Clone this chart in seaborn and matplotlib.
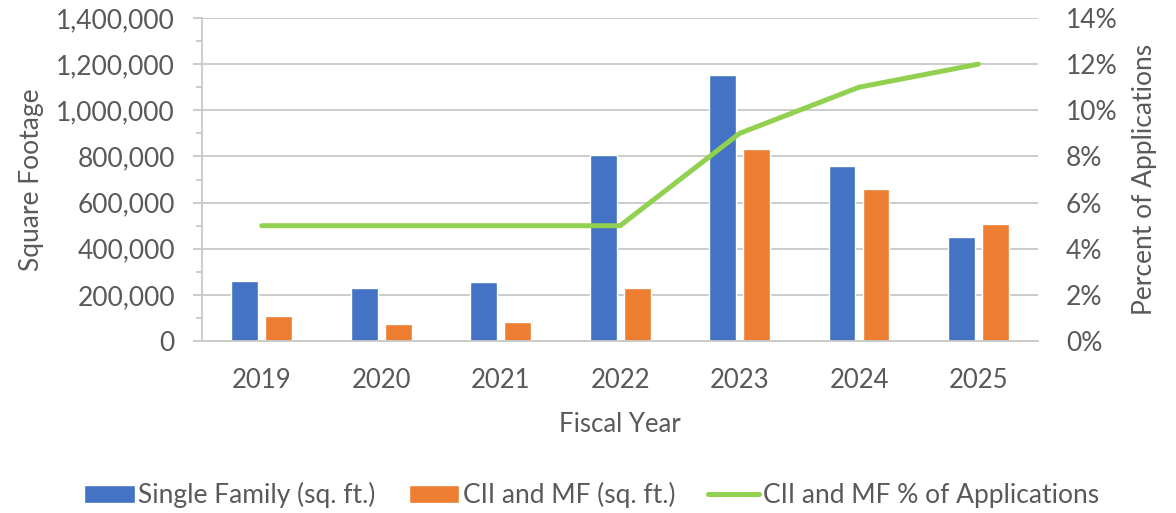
import numpy as np
import pandas as pd
import matplotlib
matplotlib.use("Agg")
import matplotlib.pyplot as plt
from matplotlib.ticker import FuncFormatter, MultipleLocator
from matplotlib.patches import Patch
from matplotlib.lines import Line2D
import seaborn as sns

years = ["2019", "2020", "2021", "2022", "2023", "2024", "2025"]
single_family = [260000, 230000, 258000, 805000, 1155000, 760000, 452000]
cii_mf = [108000, 75000, 82000, 232000, 833000, 659000, 508000]
cii_mf_pct = [5, 5, 5, 5, 9, 11, 12]

sf_label = "Single Family (sq. ft.)"
cm_label = "CII and MF (sq. ft.)"
pct_label = "CII and MF % of Applications"

blue = "#4472C4"
orange = "#ED7D31"
green = "#92D050"
grid_c = "#C8C8C8"
text_c = "#595959"

sns.set_style("white")
plt.rcParams["font.family"] = ["Lato", "DejaVu Sans"]

df = pd.DataFrame({
    "year": years * 2,
    "value": single_family + cii_mf,
    "series": [sf_label] * len(years) + [cm_label] * len(years),
})

fig = plt.figure(figsize=(11.76, 5.13), dpi=100)
ax = fig.add_axes([0.1718, 0.335, 0.711, 0.630])

sns.barplot(data=df, x="year", y="value", hue="series", order=years,
            palette=[blue, orange], width=0.57, gap=0.21, ax=ax,
            legend=False, saturation=1)

ax.set_ylim(0, 1400000)
ax.set_xlim(-0.5, len(years) - 0.5)
ax.yaxis.set_major_locator(MultipleLocator(200000))
ax.yaxis.set_minor_locator(MultipleLocator(100000))
ax.yaxis.set_major_formatter(FuncFormatter(lambda v, p: f"{int(v):,}"))
ax.grid(axis="y", which="major", color=grid_c, linewidth=1.3)
ax.set_axisbelow(True)
for s in ["top", "right"]:
    ax.spines[s].set_visible(False)
ax.spines["left"].set_color(grid_c)
ax.spines["bottom"].set_color(grid_c)
ax.spines["left"].set_linewidth(1.3)
ax.spines["bottom"].set_linewidth(1.3)
ax.tick_params(axis="y", which="major", length=6.5, width=1.3, color=grid_c,
               labelsize=19, labelcolor=text_c, pad=13)
ax.tick_params(axis="y", which="minor", length=4.5, width=1.3, color=grid_c, left=True)
ax.tick_params(axis="x", length=0, labelsize=18.5, labelcolor=text_c, pad=19)
ax.set_xlabel("Fiscal Year", fontsize=18.5, color=text_c, labelpad=14)
ax.set_ylabel("Square Footage", fontsize=19, color=text_c, labelpad=9)

ax2 = ax.twinx()
sns.lineplot(x=np.arange(len(years)), y=cii_mf_pct, color=green, linewidth=3.6,
             ax=ax2, solid_capstyle="round")
ax2.set_ylim(0, 14)
ax2.yaxis.set_major_locator(MultipleLocator(2))
ax2.yaxis.set_major_formatter(FuncFormatter(lambda v, p: f"{int(v)}%"))
for s in ["top", "right", "left", "bottom"]:
    ax2.spines[s].set_visible(False)
ax2.tick_params(axis="y", length=0, labelsize=19, labelcolor=text_c, pad=20)
ax2.set_ylabel("Percent of Applications", fontsize=19, color=text_c, labelpad=10)
ax2.grid(False)

handles = [
    Patch(facecolor=blue, label=sf_label),
    Patch(facecolor=orange, label=cm_label),
    Line2D([0], [0], color=green, linewidth=3.6, label=pct_label),
]
fig.legend(handles=handles, loc="center", bbox_to_anchor=(0.503, 0.035), ncol=3,
           frameon=False, fontsize=19, labelcolor=text_c, handlelength=1.9,
           handleheight=0.7, handletextpad=0.15, columnspacing=1.25)

fig.savefig("out.png", dpi=100)
